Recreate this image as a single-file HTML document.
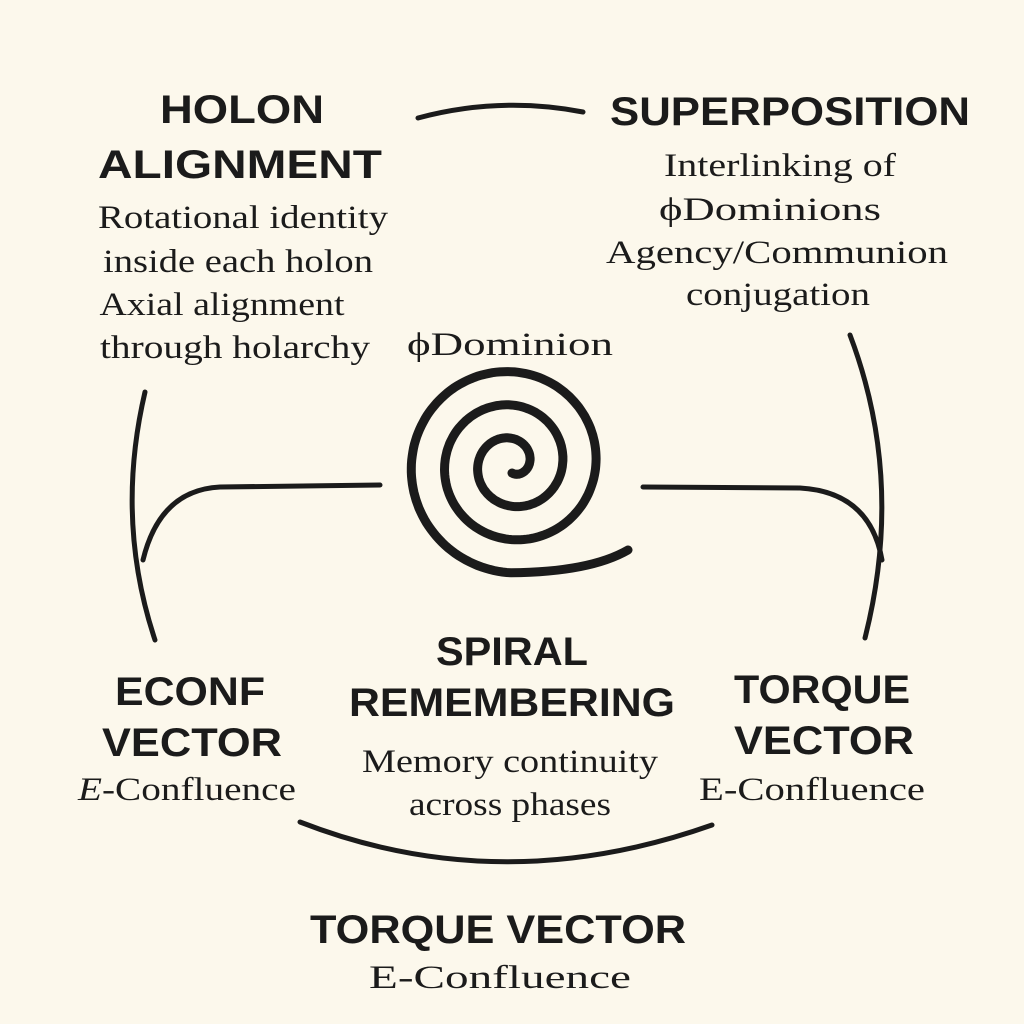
<!DOCTYPE html>
<html><head><meta charset="utf-8"><style>
html,body{margin:0;padding:0;background:#fcf8ec;}
svg{display:block}
.h{font-family:"Liberation Sans",sans-serif;font-weight:bold;font-size:40px;fill:#1b1b1b;text-anchor:middle}
.b{font-family:"Liberation Serif",serif;font-size:33px;fill:#1b1b1b;text-anchor:middle}
.l{fill:none;stroke:#1b1b1b;stroke-width:5;stroke-linecap:round}
</style></head><body>
<svg width="1024" height="1024" viewBox="0 0 1024 1024">
<rect width="1024" height="1024" fill="#fcf8ec"/>
<g>
<text class="h" x="242" y="123" textLength="164" lengthAdjust="spacingAndGlyphs">HOLON</text>
<text class="h" x="240" y="178" textLength="284" lengthAdjust="spacingAndGlyphs">ALIGNMENT</text>
<text class="b" x="243" y="228" textLength="290" lengthAdjust="spacingAndGlyphs">Rotational identity</text>
<text class="b" x="238" y="272" textLength="270" lengthAdjust="spacingAndGlyphs">inside each holon</text>
<text class="b" x="222" y="315" textLength="245" lengthAdjust="spacingAndGlyphs">Axial alignment</text>
<text class="b" x="235" y="358" textLength="270" lengthAdjust="spacingAndGlyphs">through holarchy</text>
</g>
<g>
<text class="h" x="790" y="125" textLength="360" lengthAdjust="spacingAndGlyphs">SUPERPOSITION</text>
<text class="b" x="780" y="176" textLength="232" lengthAdjust="spacingAndGlyphs">Interlinking of</text>
<text class="b" x="770" y="220" textLength="222" lengthAdjust="spacingAndGlyphs">ϕDominions</text>
<text class="b" x="777" y="263" textLength="342" lengthAdjust="spacingAndGlyphs">Agency/Communion</text>
<text class="b" x="778" y="305" textLength="184" lengthAdjust="spacingAndGlyphs">conjugation</text>
</g>
<text class="b" x="510" y="355" textLength="206" lengthAdjust="spacingAndGlyphs">ϕDominion</text>
<path class="l" d="M418,118 Q500,96 583,112"/>
<path class="l" d="M145,392 Q115,520 155,640"/>
<path class="l" d="M380,485 L220,487 Q160,490 143,560"/>
<path class="l" d="M850,335 Q905,480 865,638"/>
<path class="l" d="M643,487 L800,488 Q870,492 882,560"/>
<path class="l" d="M300,822 Q500,900 712,825"/>
<path id="spiral" class="l" style="stroke-width:9" d=""/>
<g>
<text class="h" x="190" y="705" textLength="150" lengthAdjust="spacingAndGlyphs">ECONF</text>
<text class="h" x="192" y="756" textLength="180" lengthAdjust="spacingAndGlyphs">VECTOR</text>
<text class="b" x="187" y="800" textLength="218" lengthAdjust="spacingAndGlyphs"><tspan font-style="italic">E</tspan>-Confluence</text>
</g>
<g>
<text class="h" x="512" y="665" textLength="152" lengthAdjust="spacingAndGlyphs">SPIRAL</text>
<text class="h" x="512" y="716" textLength="326" lengthAdjust="spacingAndGlyphs">REMEMBERING</text>
<text class="b" x="510" y="772" textLength="296" lengthAdjust="spacingAndGlyphs">Memory continuity</text>
<text class="b" x="510" y="815" textLength="202" lengthAdjust="spacingAndGlyphs">across phases</text>
</g>
<g>
<text class="h" x="822" y="703" textLength="176" lengthAdjust="spacingAndGlyphs">TORQUE</text>
<text class="h" x="824" y="754" textLength="180" lengthAdjust="spacingAndGlyphs">VECTOR</text>
<text class="b" x="812" y="800" textLength="226" lengthAdjust="spacingAndGlyphs">E-Confluence</text>
</g>
<g>
<text class="h" x="498" y="943" textLength="376" lengthAdjust="spacingAndGlyphs">TORQUE VECTOR</text>
<text class="b" x="500" y="988" textLength="262" lengthAdjust="spacingAndGlyphs">E-Confluence</text>
</g>
</svg>
<script>
var cx=512,cy=464,pts=[];
var T=3*2*Math.PI;
var off=Math.PI/2+T;
for(var t=0;t<=T+0.001;t+=0.04){
  var r=9+t*5.3;
  var a=off-t;
  pts.push((cx+r*Math.cos(a)).toFixed(1)+","+(cy+r*Math.sin(a)).toFixed(1));
}
var d="M"+pts.join(" L");
d+=" Q590,572 628,550";
document.getElementById('spiral').setAttribute('d',d);
</script>
</body></html>
